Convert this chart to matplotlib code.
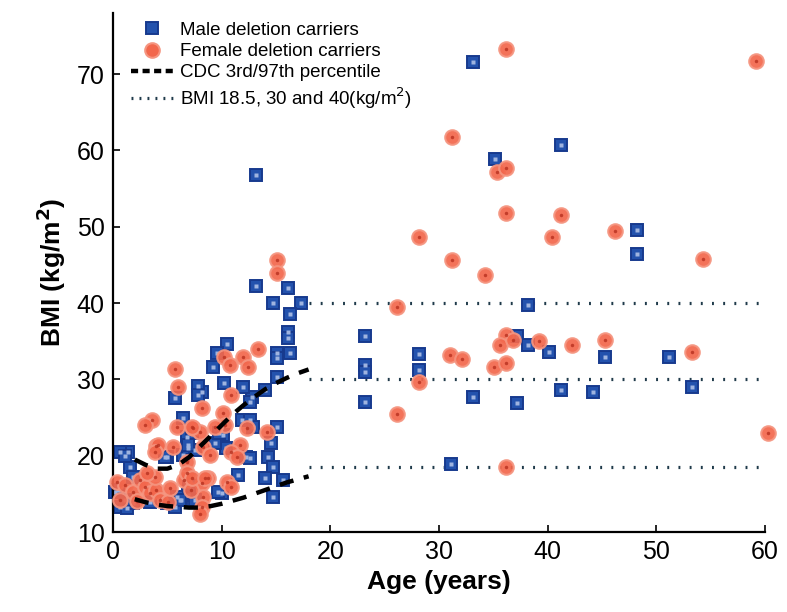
import matplotlib
matplotlib.use("Agg")
import matplotlib.pyplot as plt
from matplotlib.lines import Line2D

plt.rcParams['font.family'] = ['Liberation Sans', 'DejaVu Sans']

# ---- data ----
male_age = [33.1, 35.2, 41.2, 48.2, 48.2, 38.2, 37.2, 38.2, 40.1, 45.3, 51.2, 41.2, 44.2, 53.3,
            37.2, 33.1, 28.2, 28.2, 23.2, 23.2, 23.2, 23.2, 31.1,
            13.2, 13.2, 16.1, 14.7, 17.3, 16.3, 16.1, 16.1, 16.3, 15.1, 15.1, 15.1, 15.6,
            14.0, 12.8, 12.0, 10.2, 10.5, 9.6, 9.2, 8.2, 7.8, 7.8, 5.7,
            6.4, 11.9, 12.6, 6.8, 7.3, 10.1, 15.1, 14.5, 10.4, 12.2, 1.4, 1.6, 6.4, 5.0,
            6.9, 7.5, 14.3, 14.7, 14.0, 11.5, 10.0, 14.7, 6.9, 6.3, 5.9, 7.0,
            0.2, 0.6, 1.3, 1.8, 3.4, 5.0, 5.7, 6.2, 0.6, 1.8, 12.6, 9.4, 9.8, 4.8,
            1.1, 0.5, 1.1, 7.5, 9.7, 12.6, 6.9, 12.9]
male_bmi = [71.6, 58.9, 60.7, 49.6, 46.4, 39.8, 35.7, 34.5, 33.6, 32.9, 32.9, 28.6, 28.3, 29.0,
            26.9, 27.7, 33.3, 31.2, 35.7, 31.9, 31.0, 27.0, 18.9,
            56.8, 42.2, 42.0, 40.0, 40.0, 38.6, 36.2, 35.4, 33.5, 33.5, 32.8, 30.3, 16.8,
            28.6, 27.7, 29.0, 29.5, 34.6, 33.5, 31.6, 28.3, 29.1, 27.9, 27.6,
            24.9, 24.7, 24.7, 22.5, 23.0, 22.7, 23.8, 21.7, 21.0, 19.8, 20.5, 18.5, 20.1, 19.8,
            21.0, 20.7, 19.8, 18.5, 17.1, 17.5, 15.1, 14.6, 14.8, 14.2, 14.6, 16.0,
            15.2, 13.3, 13.1, 13.8, 13.9, 13.8, 13.3, 14.2, 20.5, 17.2, 27.0, 21.7, 23.0, 19.8,
            20.0, 15.5, 14.2, 14.2, 15.2, 19.7, 21.4, 23.8]

female_age = [36.2, 59.2, 31.2, 35.3, 36.2, 36.2, 41.2, 28.2, 40.4, 46.2, 31.2, 54.3, 34.2,
              26.1, 36.2, 35.6, 36.8, 39.2, 42.2, 45.3, 53.3, 31.0, 32.1, 35.1, 36.2, 28.2,
              26.1, 36.2, 60.3,
              15.1, 15.1, 13.3, 10.2, 10.8, 12.0, 12.4, 10.9, 5.7, 6.0, 8.2, 3.6, 2.9, 5.9,
              10.1, 10.3, 7.4, 8.0, 9.4, 12.3, 11.7, 14.2, 8.3, 8.9, 10.9, 11.4, 4.0, 5.5,
              6.8, 8.7, 10.5, 10.9, 8.2, 8.3, 8.2, 8.0, 0.4, 1.1, 0.6, 1.8, 2.5, 2.9, 3.4,
              4.0, 4.3, 5.1, 5.2, 3.9, 3.1, 6.5, 7.2, 2.2, 4.1, 3.9, 7.3, 6.8, 7.3, 8.5]
female_bmi = [73.3, 71.7, 61.8, 57.2, 57.7, 51.8, 51.5, 48.7, 48.7, 49.4, 45.6, 45.8, 43.7,
              39.5, 35.8, 34.5, 35.2, 35.0, 34.5, 35.2, 33.6, 33.2, 32.7, 31.6, 32.2, 29.7,
              25.5, 18.5, 23.0,
              45.6, 43.9, 34.0, 32.9, 31.9, 32.9, 31.6, 28.0, 31.4, 29.0, 26.3, 24.7, 24.0, 23.8,
              25.6, 24.0, 23.6, 23.1, 23.8, 23.6, 21.4, 23.1, 21.1, 20.1, 20.5, 19.8, 21.3, 21.1,
              19.2, 17.1, 16.6, 15.9, 16.4, 14.6, 13.3, 12.3, 16.6, 16.2, 14.2, 15.2, 16.8, 15.9, 15.1,
              15.5, 14.2, 13.9, 15.8, 17.2, 17.7, 16.8, 15.5, 14.0, 21.4, 20.5, 23.8, 17.7, 17.1, 17.1]

cdc_age = [2, 3, 4, 5, 6, 7, 8, 9, 10, 11, 12, 13, 14, 15, 16, 17, 18]
cdc_p97 = [19.5, 18.8, 18.3, 18.3, 18.8, 19.8, 21.2, 22.6, 24.0, 25.4, 26.6, 27.7, 28.7, 29.5, 30.2, 30.8, 31.3]
cdc_p3 = [14.3, 13.9, 13.6, 13.4, 13.3, 13.2, 13.2, 13.4, 13.7, 14.1, 14.5, 15.0, 15.5, 16.0, 16.5, 16.9, 17.3]

bmi_ref_levels = [18.5, 30, 40]
bmi_ref_range = [18, 60]

xticks = [0, 10, 20, 30, 40, 50, 60]
yticks = [10, 20, 30, 40, 50, 60, 70]

# ---- styles ----
blue_face = '#2352ad'
blue_edge = '#173a8e'
red_face = '#f2674c'
red_edge = '#f59580'
dot_color = '#1f3a4a'

fig = plt.figure(figsize=(7.87, 6.12), dpi=100)
ax = fig.add_axes([0.1436, 0.1307, 0.8284, 0.848])

# reference BMI lines
for lvl in bmi_ref_levels:
    ax.plot(bmi_ref_range, [lvl, lvl], color=dot_color, lw=2.3, dashes=(0.6, 2.9), zorder=1)

# CDC percentiles
ax.plot(cdc_age, cdc_p97, color='black', lw=3.2, dashes=(3.2, 2.4), zorder=4)
ax.plot(cdc_age, cdc_p3, color='black', lw=3.2, dashes=(3.2, 2.4), zorder=4)

# data points
ax.plot(male_age, male_bmi, linestyle='none', marker='s', ms=8.6, mfc=blue_face,
        mec=blue_edge, mew=1.4, zorder=2, clip_on=False)
ax.plot(male_age, male_bmi, linestyle='none', marker='s', ms=2.2, mfc='#9fb4e0',
        mec='none', zorder=2.1, clip_on=False)
ax.plot(female_age, female_bmi, linestyle='none', marker='o', ms=10.5, mfc=red_face,
        mec=red_edge, mew=1.5, alpha=0.92, zorder=3, clip_on=False)
ax.plot(female_age, female_bmi, linestyle='none', marker='o', ms=2.5, mfc='#b8301e',
        mec='none', alpha=0.8, zorder=3.1, clip_on=False)

ax.set_xlim(0, 60)
ax.set_ylim(10, 78)
ax.set_xticks(xticks)
ax.set_yticks(yticks)
ax.tick_params(direction='in', length=5, width=1.2, labelsize=18, pad=6)
for s in ['top', 'right']:
    ax.spines[s].set_visible(False)
for s in ['left', 'bottom']:
    ax.spines[s].set_linewidth(1.6)

ax.set_xlabel('Age (years)', fontsize=19, fontweight='bold', labelpad=4)
ax.set_ylabel('BMI (kg/m$^\\mathbf{2}$)', fontsize=19, fontweight='bold', labelpad=6)

handles = [
    Line2D([], [], linestyle='none', marker='s', ms=8.6, mfc=blue_face, mec=blue_edge, mew=1.4),
    Line2D([], [], linestyle='none', marker='o', ms=10.5, mfc=red_face, mec=red_edge, mew=1.5),
    Line2D([], [], color='black', lw=3.2, dashes=(1.6, 1.0)),
    Line2D([], [], color=dot_color, lw=2.3, dashes=(0.6, 1.9)),
]
labels = ['Male deletion carriers', 'Female deletion carriers',
          'CDC 3rd/97th percentile', 'BMI 18.5, 30 and 40(kg/m$^2$)']
ax.legend(handles, labels, loc='upper left', bbox_to_anchor=(0.01, 1.005), frameon=False,
          fontsize=13.5, handlelength=2.3, handletextpad=0.35, labelspacing=0.22,
          borderaxespad=0.2)

fig.savefig('out.png', dpi=100)
